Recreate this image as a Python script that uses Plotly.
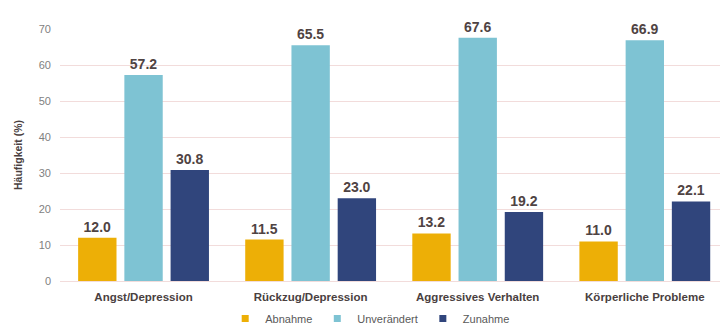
import plotly.graph_objects as go

categories = ["Angst/Depression", "Rückzug/Depression", "Aggressives Verhalten", "Körperliche Probleme"]
abnahme = [12.0, 11.5, 13.2, 11.0]
unveraendert = [57.2, 65.5, 67.6, 66.9]
zunahme = [30.8, 23.0, 19.2, 22.1]
yticks = [0, 10, 20, 30, 40, 50, 60, 70]

series = [
    ("Abnahme", abnahme, "#EDAF06"),
    ("Unverändert", unveraendert, "#7EC3D3"),
    ("Zunahme", zunahme, "#30457C"),
]

fig = go.Figure()
for name, vals, col in series:
    fig.add_trace(go.Bar(
        x=categories, y=vals, name=name, showlegend=False,
        marker=dict(color=col, line=dict(width=0)),
        text=[f"<b>{v:.1f}</b>" for v in vals], textposition="outside",
        textfont=dict(family="Liberation Sans, Arial", size=14, color="#4F4343"),
        cliponaxis=False,
    ))
for name, vals, col in series:
    fig.add_trace(go.Scatter(
        x=[None], y=[None], mode="markers", name=name,
        marker=dict(symbol="square", size=7, color=col),
    ))

fig.update_layout(
    width=720, height=325,
    margin=dict(l=60, r=0, t=29, b=44, autoexpand=False),
    paper_bgcolor="white", plot_bgcolor="white",
    barmode="group", bargap=0.17, bargroupgap=0.17,
    font=dict(family="Liberation Sans, Arial", color="#595959"),
    legend=dict(orientation="h", x=0.47, xanchor="center", yref="container", y=0.02, yanchor="middle",
                bgcolor="rgba(0,0,0,0)",
                font=dict(size=11, color="#595959"), itemwidth=30, traceorder="normal",
                entrywidth=0, tracegroupgap=0),
)
fig.update_xaxes(range=[-0.5, 3.45], showgrid=False, showline=True, linecolor="#F2DCDB",
                 ticks="", ticklabelstandoff=5,
                 tickfont=dict(size=11.5, color="#4A3F3F", family="Liberation Sans, Arial"),
                 tickprefix="<b>", ticksuffix="</b>")
fig.update_yaxes(range=[0, 70], tickvals=yticks, showgrid=True, gridcolor="#F2DCDB", gridwidth=1,
                 zeroline=False, tickfont=dict(size=11, color="#7F7F7F"), ticklabelstandoff=8,
                 title=dict(text="<b>Häufigkeit (%)</b>", font=dict(size=10.5, color="#4A3F3F"), standoff=14))

fig.write_html("out.html")
